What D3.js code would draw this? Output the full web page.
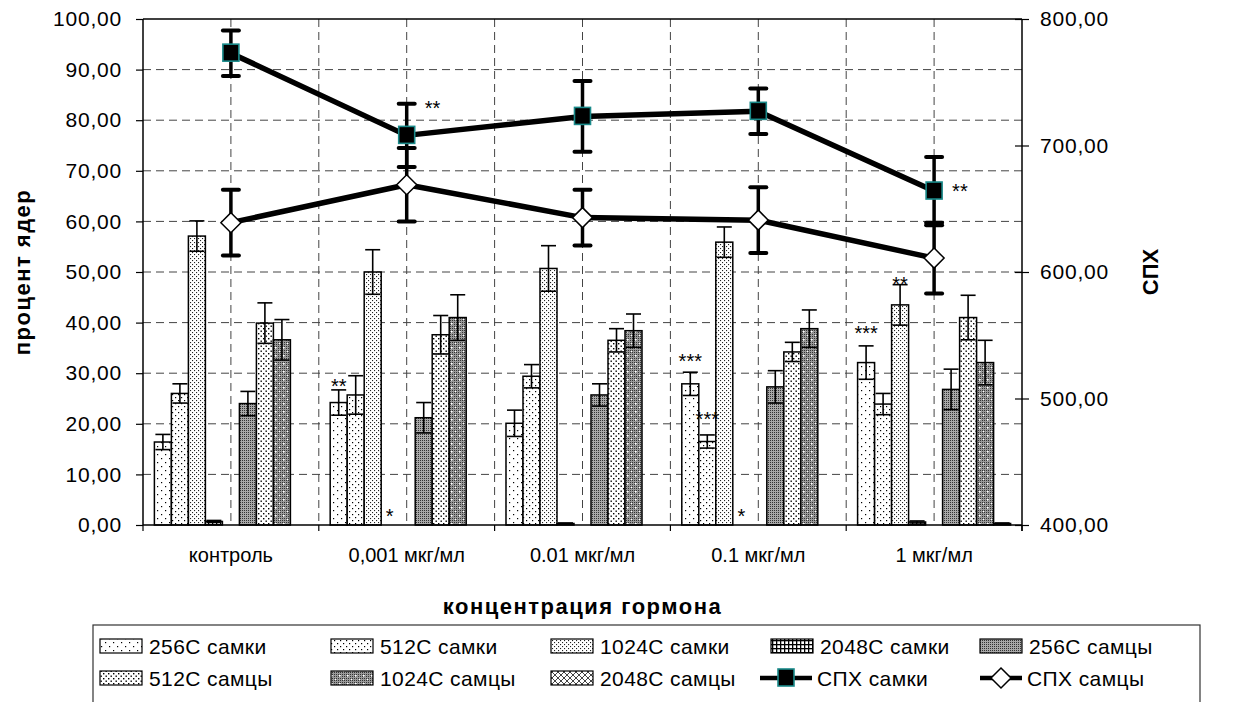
<!DOCTYPE html>
<html>
<head>
<meta charset="utf-8">
<script src="https://cdn.jsdelivr.net/npm/d3@7"></script>
<style>
  body { margin: 0; background: #fff; }
  text { font-family: "Liberation Sans", Arial, sans-serif; fill: #000; }
</style>
</head>
<body>
<script>
// categories and series
const categories = ["контроль", "0,001 мкг/мл", "0.01 мкг/мл", "0.1 мкг/мл", "1 мкг/мл"];
const barSeries = ["256C самки", "512C самки", "1024C самки", "2048C самки",
                   "256C самцы", "512C самцы", "1024C самцы", "2048C самцы"];

// bar values (процент ядер) and errors
const f256 = [16.4, 24.2, 20.1, 27.9, 32.1];
const f512 = [26.0, 25.7, 29.4, 16.5, 23.9];
const f1024 = [57.1, 50.0, 50.7, 55.9, 43.5];
const f2048 = [0.7, 0, 0.3, 0, 0.6];
const m256 = [24.0, 21.2, 25.7, 27.3, 26.8];
const m512 = [39.9, 37.6, 36.5, 34.2, 41.0];
const m1024 = [36.6, 41.0, 38.4, 38.8, 32.1];
const m2048 = [0, 0, 0, 0, 0.3];

const f256Err = [1.5, 2.5, 2.6, 2.3, 3.3];
const f512Err = [1.9, 3.8, 2.3, 1.3, 2.1];
const f1024Err = [3.0, 4.4, 4.5, 3.0, 4.0];
const f2048Err = [0.2, 0, 0.1, 0, 0.2];
const m256Err = [2.4, 3.0, 2.2, 3.2, 4.0];
const m512Err = [4.0, 3.8, 2.3, 1.9, 4.4];
const m1024Err = [4.0, 4.5, 3.3, 3.7, 4.4];
const m2048Err = [0, 0, 0, 0, 0.1];

// line values (СПХ) and errors
const spxFemale = [773, 708, 723, 727, 664];
const spxFemaleErr = [18, 25, 28, 18, 27];
const spxMale = [639, 669, 643, 641, 611];
const spxMaleErr = [26, 29, 22, 26, 28];

// tick labels
const leftTicks = [0, 10, 20, 30, 40, 50, 60, 70, 80, 90, 100];
const rightTicks = [400, 500, 600, 700, 800];

// significance marks: category, series, text, level (left axis units or right axis units)
const barMarks = [
  { cat: 1, series: "256C самки", text: "**", at: 28.2 },
  { cat: 1, series: "2048C самки", text: "*", at: 2.5 },
  { cat: 3, series: "256C самки", text: "***", at: 33.2 },
  { cat: 3, series: "512C самки", text: "***", at: 21.7 },
  { cat: 3, series: "2048C самки", text: "*", at: 2.5 },
  { cat: 4, series: "256C самки", text: "***", at: 38.7 },
  { cat: 4, series: "1024C самки", text: "**", at: 48.5 }
];
const lineMarks = [
  { cat: 1, text: "**", at: 733 },
  { cat: 4, text: "**", at: 667 }
];

const barValues = [f256, f512, f1024, f2048, m256, m512, m1024, m2048];
const barErrors = [f256Err, f512Err, f1024Err, f2048Err, m256Err, m512Err, m1024Err, m2048Err];

const WIDTH = 1237;
const HEIGHT = 702;
const plotLeft = 143, plotRight = 1022, plotTop = 19, plotBottom = 525;

const svg = d3.select("body").append("svg")
  .attr("width", WIDTH)
  .attr("height", HEIGHT);

// patterns
const defs = svg.append("defs");
function pattern(id, w, h, bg) {
  const p = defs.append("pattern")
    .attr("id", id)
    .attr("width", w)
    .attr("height", h)
    .attr("patternUnits", "userSpaceOnUse");
  p.append("rect").attr("width", w).attr("height", h).attr("fill", bg);
  return p;
}
function dot(p, x, y, s, c) {
  p.append("rect").attr("x", x).attr("y", y).attr("width", s).attr("height", s).attr("fill", c);
}
let p;
p = pattern("p0", 8, 8, "#fff"); dot(p, 1, 2, 1.2, "#000"); dot(p, 5, 6, 1.2, "#000");
p = pattern("p1", 6, 6, "#fff"); dot(p, 1, 1, 1.2, "#000"); dot(p, 4, 4, 1.2, "#000");
p = pattern("p2", 4, 4, "#fff"); dot(p, 0, 0, 1.1, "#222"); dot(p, 2, 2, 1.1, "#222");
p = pattern("p3", 4, 4, "#fff");
p.append("rect").attr("x", 0).attr("y", 0).attr("width", 1.3).attr("height", 4).attr("fill", "#000");
p.append("rect").attr("x", 0).attr("y", 0).attr("width", 4).attr("height", 1.3).attr("fill", "#000");
p = pattern("p4", 2, 2, "#a8a8a8"); dot(p, 0, 0, 1, "#333");
p = pattern("p5", 5, 5, "#fff"); dot(p, 0.5, 0.5, 1.4, "#000"); dot(p, 3, 3, 1.4, "#000");
p = pattern("p6", 8, 8, "#9a9a9a");
for (let i = 0; i < 8; i += 2) for (let j = 0; j < 8; j += 2) dot(p, i, j, 1, "#333");
dot(p, 3, 3, 1.6, "#fff"); dot(p, 7, 7, 1.6, "#fff");
p = pattern("p7", 6, 6, "#fff");
p.append("path").attr("d", "M0,0 L6,6 M6,0 L0,6").attr("stroke", "#444").attr("stroke-width", 1);
const fills = d3.range(8).map(i => `url(#p${i})`);

// scales
const x0 = d3.scaleBand().domain(categories).range([plotLeft, plotRight]).paddingInner(0).paddingOuter(0);
const x1 = d3.scaleBand().domain(d3.range(9)).range([0, x0.bandwidth()]).paddingInner(0).paddingOuter(0.67);
const slot = i => (i < 4 ? i : i + 1);
const yL = d3.scaleLinear().domain([0, 100]).range([plotBottom, plotTop]);
const yR = d3.scaleLinear().domain([400, 800]).range([plotBottom, plotTop]);
const cx = c => x0(categories[c]) + x0.bandwidth() / 2;

// gridlines
const grid = svg.append("g");
grid.selectAll("line.h").data(leftTicks.filter(t => t > 0 && t < 100)).enter()
  .append("line")
  .attr("x1", plotLeft).attr("x2", plotRight)
  .attr("y1", d => yL(d)).attr("y2", d => yL(d))
  .attr("stroke", "#444").attr("stroke-width", 1).attr("stroke-dasharray", "8,5");
const half = d3.range(1, 10).map(k => plotLeft + k * x0.bandwidth() / 2);
grid.selectAll("line.v").data(half).enter()
  .append("line")
  .attr("x1", d => d).attr("x2", d => d)
  .attr("y1", plotTop).attr("y2", plotBottom)
  .attr("stroke", "#444").attr("stroke-width", 1).attr("stroke-dasharray", "8,5");

// bars
const rows = [];
barSeries.forEach((s, si) => {
  categories.forEach((c, ci) => {
    rows.push({ s, si, c, ci, v: barValues[si][ci], e: barErrors[si][ci] });
  });
});
const bars = svg.append("g");
bars.selectAll("rect").data(rows.filter(d => d.v > 0)).enter()
  .append("rect")
  .attr("x", d => x0(d.c) + x1(slot(d.si)))
  .attr("y", d => yL(d.v))
  .attr("width", x1.bandwidth())
  .attr("height", d => yL(0) - yL(d.v))
  .attr("fill", d => fills[d.si])
  .attr("stroke", "#000")
  .attr("stroke-width", 1.5);

// bar error bars
const errG = svg.append("g").attr("stroke", "#000").attr("stroke-width", 1.6);
rows.filter(d => d.e > 0).forEach(d => {
  const xc = x0(d.c) + x1(slot(d.si)) + x1.bandwidth() / 2;
  const hw = x1.bandwidth() / 2 - 1;
  const lo = yL(Math.max(0, d.v - d.e)), hi = yL(d.v + d.e);
  errG.append("line").attr("x1", xc).attr("x2", xc).attr("y1", hi).attr("y2", lo);
  errG.append("line").attr("x1", xc - hw).attr("x2", xc + hw).attr("y1", hi).attr("y2", hi);
  errG.append("line").attr("x1", xc - hw).attr("x2", xc + hw).attr("y1", lo).attr("y2", lo);
});

// axes frame
const frame = svg.append("g").attr("stroke", "#000").attr("stroke-width", 1.5);
frame.append("line").attr("x1", plotLeft).attr("x2", plotRight).attr("y1", plotTop).attr("y2", plotTop);
frame.append("line").attr("x1", plotLeft).attr("x2", plotRight).attr("y1", plotBottom).attr("y2", plotBottom);
frame.append("line").attr("x1", plotLeft).attr("x2", plotLeft).attr("y1", plotTop).attr("y2", plotBottom);
frame.append("line").attr("x1", plotRight).attr("x2", plotRight).attr("y1", plotTop).attr("y2", plotBottom + 6);

// left axis
const fmt = v => d3.format(".2f")(v).replace(".", ",");
const axL = svg.append("g").attr("transform", `translate(${plotLeft},0)`)
  .call(d3.axisLeft(yL).tickValues(leftTicks).tickFormat(fmt).tickSize(7).tickPadding(14));
axL.select(".domain").remove();
axL.selectAll(".tick line").attr("stroke", "#000").attr("stroke-width", 1.2);
axL.selectAll("text").attr("font-size", 21).attr("font-family", "Liberation Sans, Arial").attr("letter-spacing", 0.8);

// right axis
const axR = svg.append("g").attr("transform", `translate(${plotRight},0)`)
  .call(d3.axisRight(yR).tickValues(rightTicks).tickFormat(fmt).tickSize(7).tickPadding(11));
axR.select(".domain").remove();
axR.selectAll(".tick line").attr("x1", -7).attr("stroke", "#000").attr("stroke-width", 1.2);
axR.selectAll("text").attr("font-size", 21).attr("font-family", "Liberation Sans, Arial").attr("letter-spacing", 0.8);

// bottom axis
const axB = svg.append("g").attr("transform", `translate(0,${plotBottom})`)
  .call(d3.axisBottom(x0).tickSize(0).tickPadding(23));
axB.select(".domain").remove();
axB.selectAll("text").attr("font-size", 20).attr("font-family", "Liberation Sans, Arial");
svg.append("g").selectAll("line").data(d3.range(6)).enter()
  .append("line")
  .attr("x1", d => plotLeft + d * x0.bandwidth()).attr("x2", d => plotLeft + d * x0.bandwidth())
  .attr("y1", plotBottom).attr("y2", plotBottom + 6)
  .attr("stroke", "#000").attr("stroke-width", 1.2);

// axis titles
svg.append("text").attr("x", (plotLeft + plotRight) / 2).attr("y", 614)
  .attr("text-anchor", "middle").attr("font-size", 22).attr("font-weight", "bold").attr("letter-spacing", 1.5)
  .text("концентрация гормона");
svg.append("text").attr("transform", `translate(30,${(plotTop + plotBottom) / 2}) rotate(-90)`)
  .attr("text-anchor", "middle").attr("font-size", 22).attr("font-weight", "bold").attr("letter-spacing", 1.5)
  .text("процент ядер");
svg.append("text").attr("transform", `translate(1158,${(plotTop + plotBottom) / 2}) rotate(-90)`)
  .attr("text-anchor", "middle").attr("font-size", 22).attr("font-weight", "bold")
  .text("СПХ");

// lines
function drawLine(values, errs, marker) {
  const g = svg.append("g");
  const pts = values.map((v, i) => [cx(i), yR(v)]);
  g.append("path").attr("d", d3.line()(pts)).attr("fill", "none")
    .attr("stroke", "#000").attr("stroke-width", 5.5).attr("stroke-linejoin", "round");
  values.forEach((v, i) => {
    const x = cx(i);
    g.append("line").attr("x1", x).attr("x2", x).attr("y1", yR(v + errs[i])).attr("y2", yR(v - errs[i]))
      .attr("stroke", "#000").attr("stroke-width", 3.5);
    [v + errs[i], v - errs[i]].forEach(e => {
      g.append("line").attr("x1", x - 8).attr("x2", x + 8).attr("y1", yR(e)).attr("y2", yR(e))
        .attr("stroke", "#000").attr("stroke-width", 4).attr("stroke-linecap", "round");
    });
  });
  values.forEach((v, i) => marker(g, cx(i), yR(v)));
}
function squareMarker(g, x, y) {
  g.append("rect").attr("x", x - 8).attr("y", y - 9).attr("width", 16).attr("height", 17)
    .attr("fill", "#000").attr("stroke", "#1a8a8a").attr("stroke-width", 1.6);
}
function diamondMarker(g, x, y) {
  g.append("path").attr("d", `M${x},${y - 10} L${x + 10},${y} L${x},${y + 10} L${x - 10},${y} Z`)
    .attr("fill", "#fff").attr("stroke", "#000").attr("stroke-width", 1.5);
}
drawLine(spxFemale, spxFemaleErr, squareMarker);
drawLine(spxMale, spxMaleErr, diamondMarker);

// significance marks
const marks = svg.append("g").attr("font-size", 20).attr("text-anchor", "middle");
barMarks.forEach(m => {
  const si = barSeries.indexOf(m.series);
  const xc = x0(categories[m.cat]) + x1(slot(si)) + x1.bandwidth() / 2;
  marks.append("text").attr("x", xc).attr("y", yL(m.at) + 11).text(m.text);
});
lineMarks.forEach(m => {
  marks.append("text").attr("x", cx(m.cat) + 18).attr("y", yR(m.at) + 11)
    .attr("text-anchor", "start").text(m.text);
});

// legend
const legend = svg.append("g");
legend.append("rect").attr("x", 93).attr("y", 625).attr("width", 1107).attr("height", 90)
  .attr("fill", "#fff").attr("stroke", "#333").attr("stroke-width", 1.2);
const legendItems = barSeries.map((s, i) => ({ name: s, type: "bar", i }))
  .concat([{ name: "СПХ самки", type: "line", marker: squareMarker },
           { name: "СПХ самцы", type: "line", marker: diamondMarker }]);
const colX = [100, 331, 551, 771, 980];
const rowY = [646, 678];
legendItems.forEach((it, k) => {
  const x = colX[k % 5], y = rowY[Math.floor(k / 5)];
  const g = legend.append("g");
  if (it.type === "bar") {
    g.append("rect").attr("x", x).attr("y", y - 7).attr("width", 42).attr("height", 14)
      .attr("fill", fills[it.i]).attr("stroke", "#000").attr("stroke-width", 1.2);
    g.append("text").attr("x", x + 49).attr("y", y + 7.5).attr("font-size", 21).attr("letter-spacing", 0.4).text(it.name);
  } else {
    const lx = k === 8 ? x - 11 : x;
    const len = k === 8 ? 52 : 42;
    g.append("line").attr("x1", lx).attr("x2", lx + len).attr("y1", y).attr("y2", y)
      .attr("stroke", "#000").attr("stroke-width", 4.5);
    it.marker(g, lx + len / 2, y);
    g.append("text").attr("x", lx + len + 5).attr("y", y + 7.5).attr("font-size", 21).attr("letter-spacing", 0.4).text(it.name);
  }
});
</script>
</body>
</html>
